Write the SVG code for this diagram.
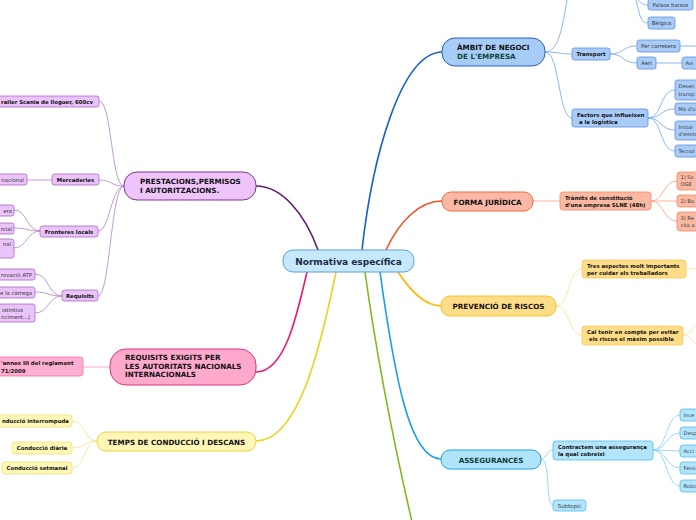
<svg xmlns="http://www.w3.org/2000/svg" width="696" height="520" viewBox="0 0 696 520">
<style>
text{font-family:"DejaVu Sans",Verdana,sans-serif;}
.s{font-size:5.4px;font-weight:bold;fill:#111;}
.l{font-size:5.4px;fill:#333a44;}
.r{font-size:5.1px;fill:#333a44;}
.m{font-size:7.2px;font-weight:bold;fill:#111;}
.c{text-anchor:middle;}
.e{text-anchor:end;}
.br{fill:none;stroke-width:1.6;stroke-linecap:round;}
.th{fill:none;stroke-width:0.9;}
.pu{fill:#eac3fa;stroke:#a868c0;stroke-width:0.8;}
.pk{fill:#ffafd0;stroke:#f070a8;stroke-width:0.8;}
.ye{fill:#fff8b8;stroke:#f0e070;stroke-width:0.8;}
.bl{fill:#a9cbf8;stroke:#5a90e0;stroke-width:0.8;}
.sa{fill:#fbb9a2;stroke:#f08868;stroke-width:0.8;}
.or{fill:#ffdd88;stroke:#f8c850;stroke-width:0.8;}
.lb{fill:#b2e4fb;stroke:#50bdf0;stroke-width:0.8;}
</style>
<g id="connectors">
<path class="br" stroke="#5e1a70" d="M318,250 C305,214 282,186 256,186"/>
<path class="br" stroke="#e8186e" d="M307,272 C296,320 284,372 256,372"/>
<path class="br" stroke="#ecd21e" d="M336,272 C320,350 298,441 256,441"/>
<path class="br" stroke="#1a62c8" d="M362,250 C372,160 400,53 442,52"/>
<path class="br" stroke="#f0501e" d="M386,250 C400,220 420,201 442,201"/>
<path class="br" stroke="#ffb800" d="M398,272 C410,290 424,306 441,306"/>
<path class="br" stroke="#10a0e8" d="M380,272 C395,380 410,459 441,459"/>
<path class="br" stroke="#80b820" d="M365,272 C380,380 400,470 412,522"/>
<g stroke="#b98ed0" class="th">
<path d="M124,186 C111,186 112,101 99,101"/>
<path d="M124,186 C111,186 112,180 99,180"/>
<path d="M124,186 C111,186 110,231 98,231"/>
<path d="M124,186 C111,186 110,296 98,296"/>
<path d="M52,180 L27,180"/>
<path d="M40,231 C27,231 27,210 14,210"/>
<path d="M40,231 C27,231 27,228 14,228"/>
<path d="M40,231 C27,231 27,248 14,248"/>
<path d="M62,296 C48,296 49,274 35,274"/>
<path d="M62,296 C48,296 49,292 35,292"/>
<path d="M62,296 C48,296 49,313 35,313"/>
</g>
<path class="th" stroke="#f8a0c8" d="M110,367 L83,367"/>
<g stroke="#f5e590" class="th">
<path d="M97,441 C84,441 85,421 72,421"/>
<path d="M97,441 C84,441 85,448 72,448"/>
<path d="M97,441 C84,441 85,468 72,468"/>
</g>
<g stroke="#80aef0" class="th">
<path d="M545,52 C558,52 562,30 567,0"/>
<path d="M545,52 C558,52 560,54 572,54"/>
<path d="M545,52 C560,52 558,118 572,118"/>
<path d="M610,54 C624,54 622,46 637,46"/>
<path d="M610,54 C624,54 622,63 637,63"/>
<path d="M680,46 L696,46"/>
<path d="M656,63 L682,63"/>
<path d="M638,0 C642,4 644,5 648,5"/>
<path d="M636,0 C640,15 640,23 648,23"/>
<path d="M648,118 C662,118 660,90 675,90"/>
<path d="M648,118 C662,118 660,109 675,109"/>
<path d="M648,118 C662,118 660,130 675,130"/>
<path d="M648,118 C662,118 660,151 675,151"/>
</g>
<g stroke="#f8a890" class="th">
<path d="M533,201 L560,201"/>
<path d="M651,201 C664,201 663,181 677,181"/>
<path d="M651,201 L677,201"/>
<path d="M651,201 C664,201 663,221 677,221"/>
</g>
<g stroke="#fde0a0" class="th">
<path d="M556,306 C570,306 568,269 582,269"/>
<path d="M556,306 C570,306 568,335 582,335"/>
<path d="M686,269 L696,268"/>
<path d="M683,335 C690,335 692,328 696,326"/>
<path d="M683,335 C690,335 692,342 696,344"/>
</g>
<g stroke="#90d4f4" class="th">
<path d="M541,459 C548,459 545,450 553,450"/>
<path d="M541,459 C551,459 545,505 553,505"/>
<path d="M653,450 C667,450 666,415 680,415"/>
<path d="M653,450 C667,450 666,433 680,433"/>
<path d="M653,450 L680,451"/>
<path d="M653,450 C667,450 666,468 680,468"/>
<path d="M653,450 C667,450 666,486 680,486"/>
</g>
</g>
<g id="central">
<rect x="283" y="250" width="131" height="22" rx="10" fill="#c5e8fb" stroke="#5aa0e0" stroke-width="1"/>
<text x="348.5" y="264.5" class="c" style="font-size:9px;font-weight:bold;fill:#1c2a48">Normativa específica</text>
</g>
<g id="prestacions">
<rect x="124" y="172" width="132" height="28" rx="13" fill="#eec4fa" stroke="#7a3a8a" stroke-width="1"/>
<text class="m" x="140" y="184">PRESTACIONS,PERMISOS</text>
<text class="m" x="140" y="192.5">I AUTORITZACIONS.</text>
</g>
<g id="p-trailer"><rect class="pu" x="-5" y="96" width="104" height="11" rx="2.5"/><text class="s" x="1" y="104">railer Scania de lloguer, 600cv</text></g>
<g id="p-mercaderies"><rect class="pu" x="52" y="174" width="47" height="11" rx="2.5"/><text class="s c" x="75.5" y="182">Mercaderies</text></g>
<g id="p-nacional"><rect class="pu" x="-5" y="174" width="32" height="11" rx="2.5"/><text class="l e" x="24" y="182">nacional</text></g>
<g id="p-fronteres"><rect class="pu" x="40" y="226" width="58" height="11" rx="2.5"/><text class="s c" x="69" y="234">Fronteres locals</text></g>
<g id="p-era"><rect class="pu" x="-5" y="205" width="19" height="11" rx="2.5"/><text class="l e" x="12" y="213">era</text></g>
<g id="p-rcial"><rect class="pu" x="-5" y="223" width="19" height="11" rx="2.5"/><text class="l e" x="12" y="231">rcial</text></g>
<g id="p-nal"><rect class="pu" x="-5" y="239" width="19" height="19" rx="2.5"/><text class="l e" x="11" y="246">nal</text></g>
<g id="p-requisits"><rect class="pu" x="62" y="290" width="36" height="11" rx="2.5"/><text class="s c" x="80" y="298">Requisits</text></g>
<g id="p-atp"><rect class="pu" x="-5" y="269" width="40" height="11" rx="2.5"/><text class="l e" x="32" y="277">rovació ATP</text></g>
<g id="p-carrega"><rect class="pu" x="-5" y="287" width="40" height="11" rx="2.5"/><text class="l e" x="32" y="295">e la càrrega</text></g>
<g id="p-distintius"><rect class="pu" x="-5" y="304" width="40" height="18" rx="2.5"/><text class="l" x="2" y="312">istintius</text><text class="l" x="1" y="319">nciment...)</text></g>
<g id="requisits">
<rect x="110" y="349" width="146" height="36" rx="16" fill="#ffaacc" stroke="#e0307a" stroke-width="1"/>
<text class="m" x="125" y="360">REQUISITS EXIGITS PER</text>
<text class="m" x="125" y="368.5">LES AUTORITATS NACIONALS</text>
<text class="m" x="125" y="377">INTERNACIONALS</text>
</g>
<g id="r-annex"><rect class="pk" x="-5" y="357" width="88" height="19" rx="3"/><text class="s" x="1" y="365">'annex III del reglament</text><text class="s" x="1" y="372.5">71/2009</text></g>
<g id="temps">
<rect x="97" y="432" width="159" height="19" rx="9" fill="#fff7b8" stroke="#f0d040" stroke-width="1"/>
<text class="m c" x="176.5" y="444.5">TEMPS DE CONDUCCIÓ I DESCANS</text>
</g>
<g id="t-interrompuda"><rect class="ye" x="-5" y="415" width="77" height="12" rx="3"/><text class="s e" x="69" y="423">nducció interrompuda</text></g>
<g id="t-diaria"><rect class="ye" x="12" y="442" width="60" height="12" rx="3"/><text class="s c" x="42" y="450">Conducció diària</text></g>
<g id="t-setmanal"><rect class="ye" x="2" y="462" width="70" height="12" rx="3"/><text class="s c" x="37" y="470">Conducció setmanal</text></g>
<g id="ambit">
<rect x="442" y="38" width="103" height="28" rx="13" fill="#a8ccf8" stroke="#2060c0" stroke-width="1"/>
<text class="m" x="457" y="50">ÀMBIT DE NEGOCI</text>
<text class="m" x="457" y="59" style="fill:#0a4a3a">DE L'EMPRESA</text>
</g>
<g id="a-paisos"><rect class="bl" x="648" y="-1" width="45" height="11" rx="2.5"/><text class="l c" x="670.5" y="7">Països baixos</text></g>
<g id="a-belgica"><rect class="bl" x="648" y="17" width="27" height="12" rx="2.5"/><text class="l c" x="661.5" y="25">Bèlgica</text></g>
<g id="a-transport"><rect class="bl" x="572" y="48" width="38" height="12" rx="2.5"/><text class="s c" x="591" y="56">Transport</text></g>
<g id="a-carretera"><rect class="bl" x="637" y="40" width="43" height="12" rx="2.5"/><text class="l c" x="658.5" y="48">Per carretera</text></g>
<g id="a-aeri"><rect class="bl" x="637" y="57" width="19" height="12" rx="2.5"/><text class="l c" x="646.5" y="65">Aeri</text></g>
<g id="a-avio"><rect class="bl" x="682" y="57" width="20" height="12" rx="2.5"/><text class="r" x="685.5" y="65">Avi</text></g>
<g id="a-factors"><rect class="bl" x="572" y="109" width="76" height="18" rx="2.5"/><text class="s" x="577" y="117">Factors que influeixen</text><text class="s" x="579" y="124">a la  logística</text></g>
<g id="a-desen"><rect class="bl" x="675" y="80" width="30" height="20" rx="2.5"/><text class="r" x="678.5" y="88">Desen</text><text class="r" x="678.5" y="95.5">transp</text></g>
<g id="a-ma"><rect class="bl" x="675" y="103" width="30" height="12" rx="2.5"/><text class="r" x="678.5" y="111">Mà d'o</text></g>
<g id="a-instal"><rect class="bl" x="675" y="121" width="30" height="19" rx="2.5"/><text class="r" x="678.5" y="129">Instal·</text><text class="r" x="678.5" y="136">d'emm</text></g>
<g id="a-tecnol"><rect class="bl" x="675" y="145" width="30" height="12" rx="2.5"/><text class="r" x="678.5" y="153">Tecnol</text></g>
<g id="forma">
<rect x="442" y="192" width="91" height="19" rx="9" fill="#fbb8a4" stroke="#f06840" stroke-width="1"/>
<text class="m c" x="487.5" y="204.5">FORMA JURÍDICA</text>
</g>
<g id="f-tramits"><rect class="sa" x="560" y="192" width="91" height="18" rx="3"/><text class="s" x="565" y="200">Tràmits de constitució</text><text class="s" x="565" y="207">d'una empresa SLNE (48h)</text></g>
<g id="f-1"><rect class="sa" x="677" y="172" width="30" height="18" rx="3"/><text class="r" x="680.5" y="179">1) So</text><text class="r" x="680.5" y="186">OGE</text></g>
<g id="f-2"><rect class="sa" x="677" y="195" width="30" height="12" rx="3"/><text class="r" x="680.5" y="203">2) Ba</text></g>
<g id="f-3"><rect class="sa" x="677" y="212" width="30" height="19" rx="3"/><text class="r" x="680.5" y="220">3) Re</text><text class="r" x="680.5" y="227">cita a</text></g>
<g id="prevencio">
<rect x="441" y="296" width="115" height="20" rx="9" fill="#ffdd88" stroke="#f8c030" stroke-width="1"/>
<text class="m c" x="498.5" y="308.5">PREVENCIÓ DE RISCOS</text>
</g>
<g id="pr-tres"><rect class="or" x="582" y="260" width="104" height="18" rx="3"/><text class="s" x="587" y="268">Tres aspectes molt importants</text><text class="s" x="587" y="275">per cuidar els treballadors</text></g>
<g id="pr-cal"><rect class="or" x="582" y="326" width="101" height="19" rx="3"/><text class="s" x="587" y="334">Cal tenir en compte per evitar</text><text class="s" x="589" y="341">els riscos el màxim possible</text></g>
<g id="assegurances">
<rect x="441" y="450" width="100" height="19" rx="9" fill="#b0e4fb" stroke="#20a0e0" stroke-width="1"/>
<text class="m c" x="491" y="462.5" style="fill:#0b3d3d">ASSEGURANCES</text>
</g>
<g id="as-contractem"><rect class="lb" x="553" y="441" width="100" height="19" rx="3"/><text class="s" x="558" y="449">Contractem una assegurança</text><text class="s" x="558" y="456">la qual cobreixi</text></g>
<g id="as-subtopic"><rect class="lb" x="553" y="500" width="33" height="11" rx="3"/><text class="l c" x="569.5" y="508">Subtopic</text></g>
<g id="as-ince"><rect class="lb" x="680" y="409" width="22" height="12" rx="3"/><text class="r" x="683.5" y="417">Ince</text></g>
<g id="as-desp"><rect class="lb" x="680" y="427" width="22" height="12" rx="3"/><text class="r" x="683.5" y="435">Desp</text></g>
<g id="as-acci"><rect class="lb" x="680" y="445" width="22" height="12" rx="3"/><text class="r" x="683.5" y="453">Acci</text></g>
<g id="as-feno"><rect class="lb" x="680" y="462" width="22" height="12" rx="3"/><text class="r" x="683.5" y="470">Fenò</text></g>
<g id="as-robs"><rect class="lb" x="680" y="480" width="22" height="12" rx="3"/><text class="r" x="683.5" y="488">Robs</text></g>
</svg>
